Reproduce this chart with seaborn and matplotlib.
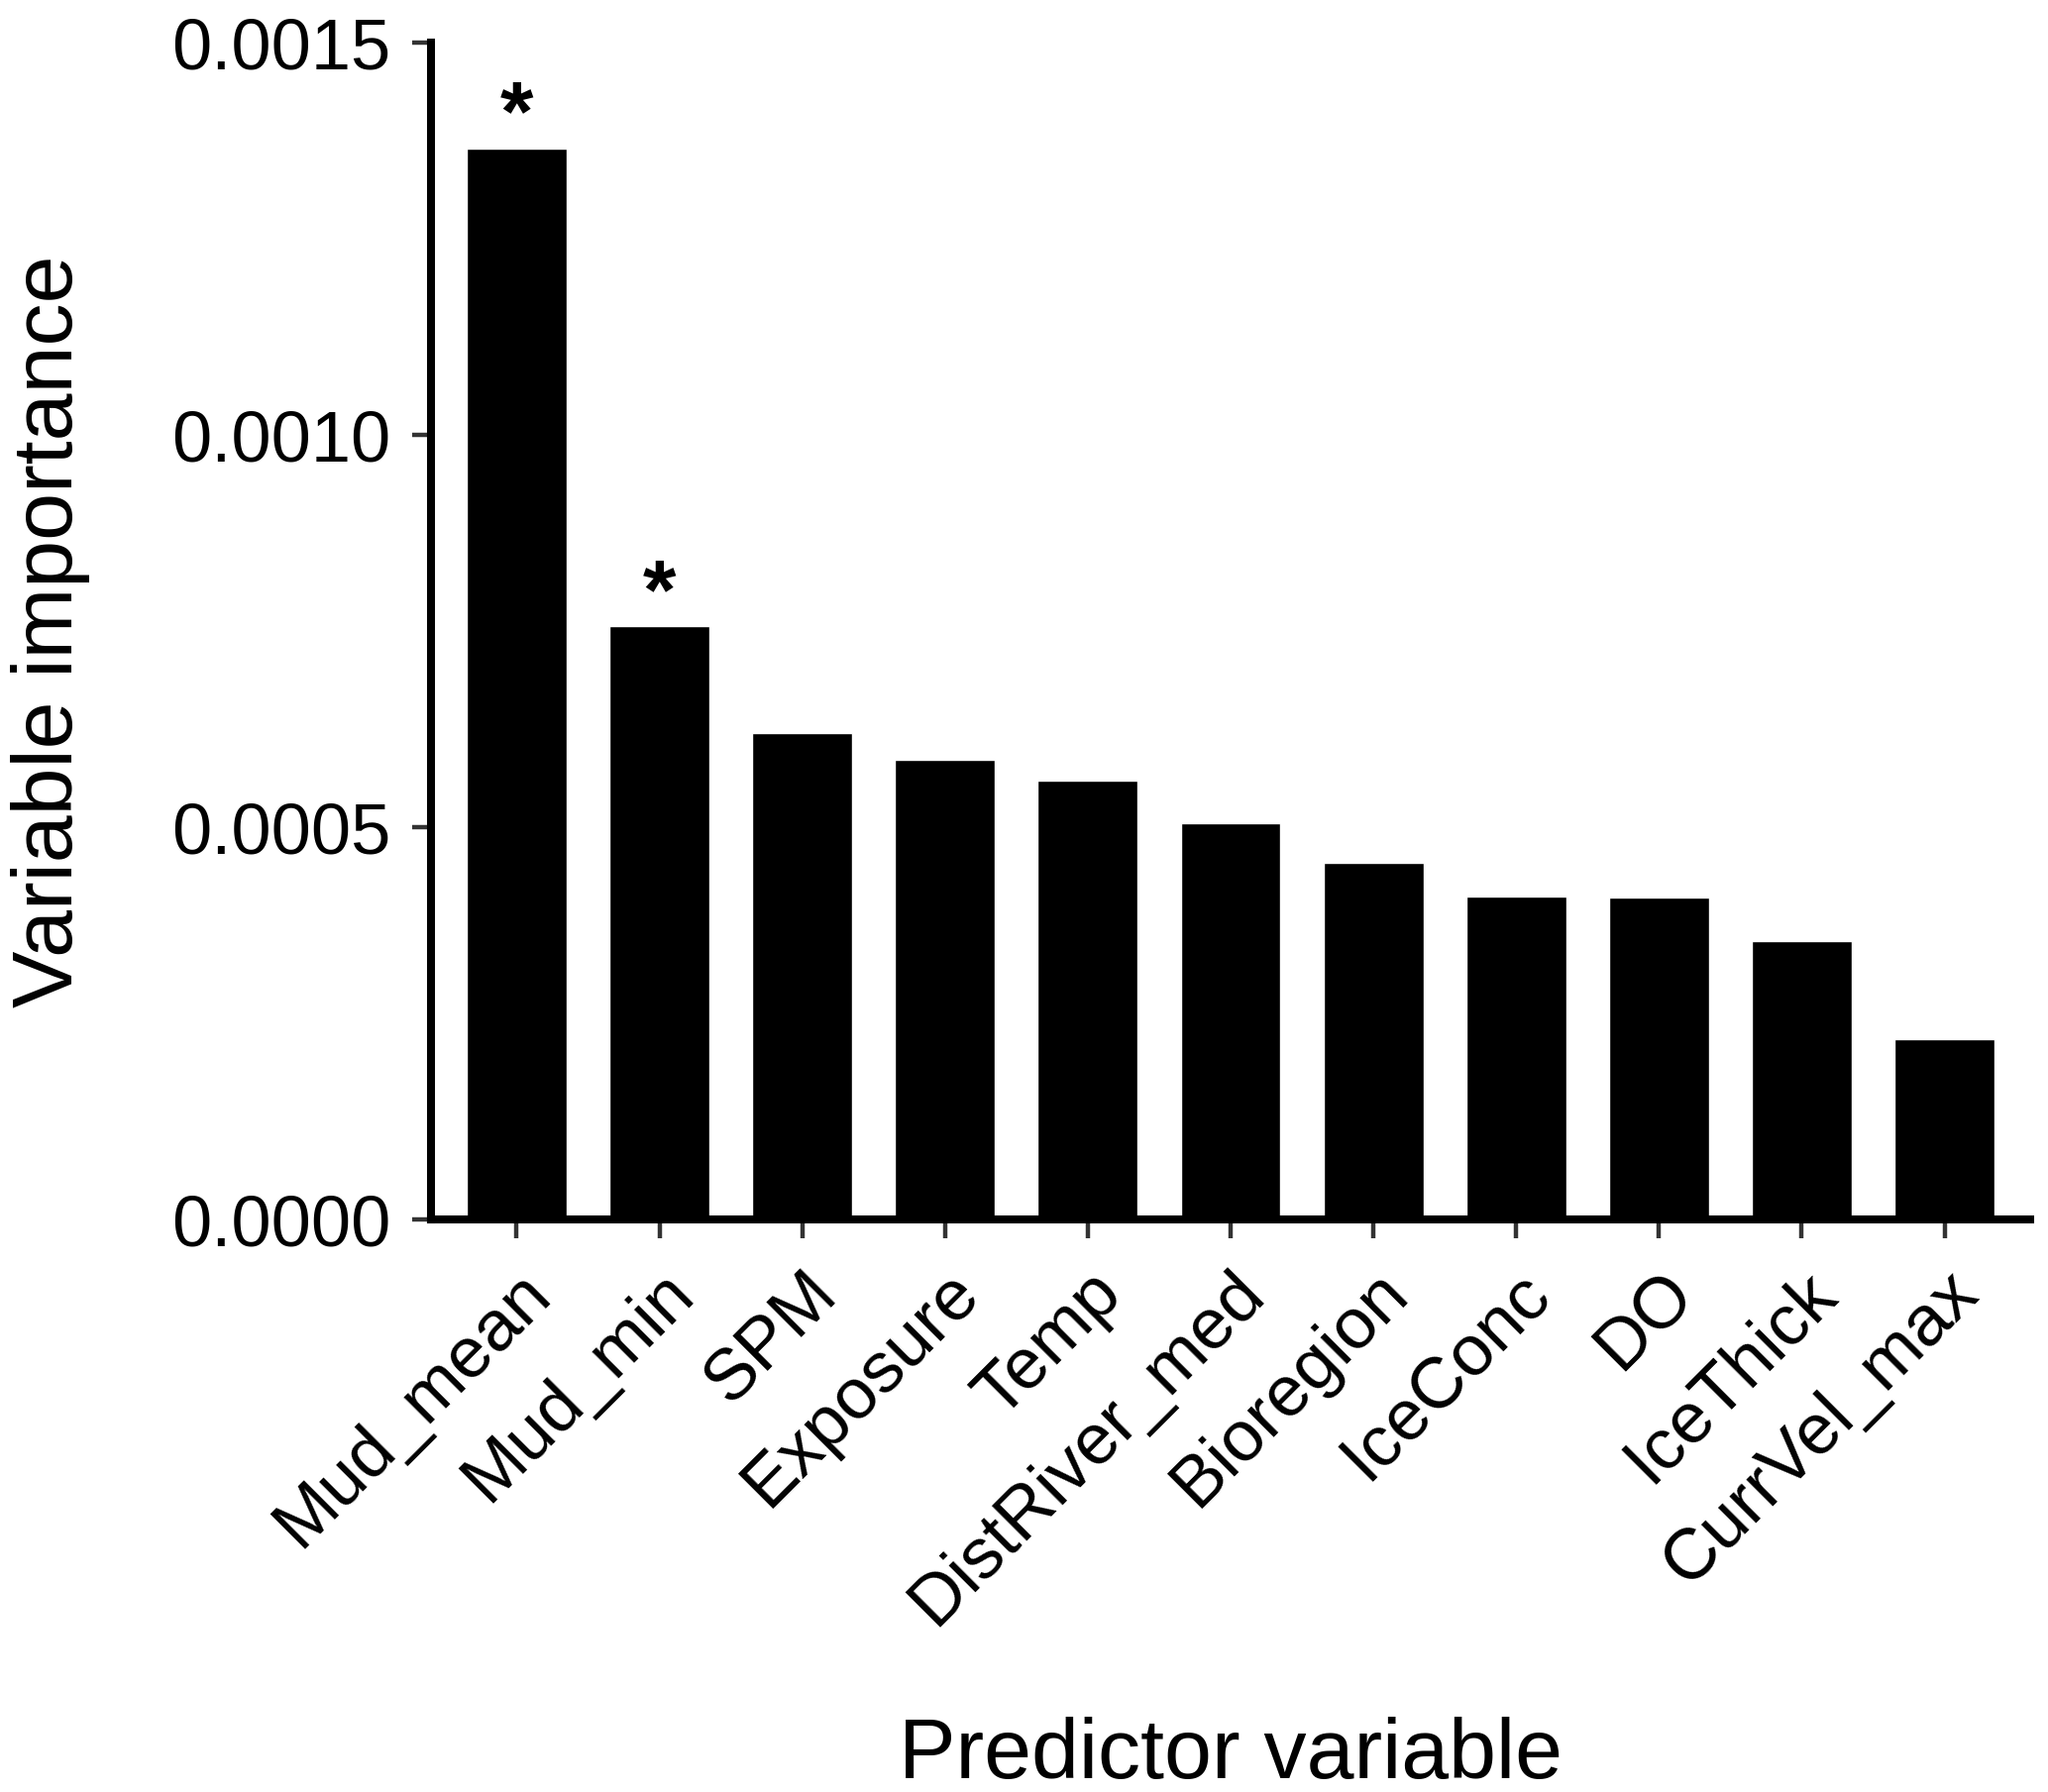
import matplotlib
matplotlib.use("Agg")
import matplotlib.pyplot as plt
import pandas as pd
import seaborn as sns

# values
predictors = ["Mud_mean", "Mud_min", "SPM", "Exposure", "Temp", "DistRiver_med",
              "Bioregion", "IceConc", "DO", "IceThick", "CurrVel_max"]
importance = [0.001365, 0.000756, 0.000620, 0.000586, 0.000559, 0.000505,
              0.000455, 0.000412, 0.000410, 0.000355, 0.000230]
significance = ["*", "*", "", "", "", "", "", "", "", "", ""]
y_ticks = [0.0, 0.0005, 0.0010, 0.0015]
y_ticklabels = ["0.0000", "0.0005", "0.0010", "0.0015"]

df = pd.DataFrame({"predictor": predictors, "importance": importance, "sig": significance})

sns.set_theme(style="ticks")
plt.rcParams["font.family"] = ["Liberation Sans", "DejaVu Sans"]

W, H = 2067, 1809
fig = plt.figure(figsize=(W / 100, H / 100), dpi=100)
ax = fig.add_axes([435 / W, 1 - 1231 / H, (2049 - 435) / W, (1231 - 43) / H])

sns.barplot(data=df, x="predictor", y="importance", color="black",
            saturation=1, width=0.7, ax=ax)

# significance stars above bars
for i, row in df.iterrows():
    if row["sig"]:
        ax.annotate(row["sig"], (i, row["importance"]), xytext=(0, 6),
                    textcoords="offset points", ha="center", va="baseline",
                    fontsize=62, fontweight="bold", color="black")

ax.set_xlim(-0.6, len(predictors) - 0.4)
ax.set_ylim(0, 0.0015)
ax.set_yticks(y_ticks)
ax.set_yticklabels(y_ticklabels)
ax.set_xticks(range(len(predictors)))
ax.set_xticklabels(predictors, rotation=45, ha="right", rotation_mode="anchor")

ax.tick_params(axis="both", length=14, width=3.2, color="#333333",
               labelsize=52, labelcolor="black", pad=15)

for side in ["top", "right"]:
    ax.spines[side].set_visible(False)
for side in ["left", "bottom"]:
    ax.spines[side].set_linewidth(5.8)
    ax.spines[side].set_color("black")

ax.set_xlabel("Predictor variable", fontsize=62, color="black")
ax.set_ylabel("Variable importance", fontsize=62, color="black")
ax.xaxis.set_label_coords(0.5, -0.4225)
ax.yaxis.set_label_coords(-0.213, 0.5)

fig.savefig("out.png", dpi=100, facecolor="white")
